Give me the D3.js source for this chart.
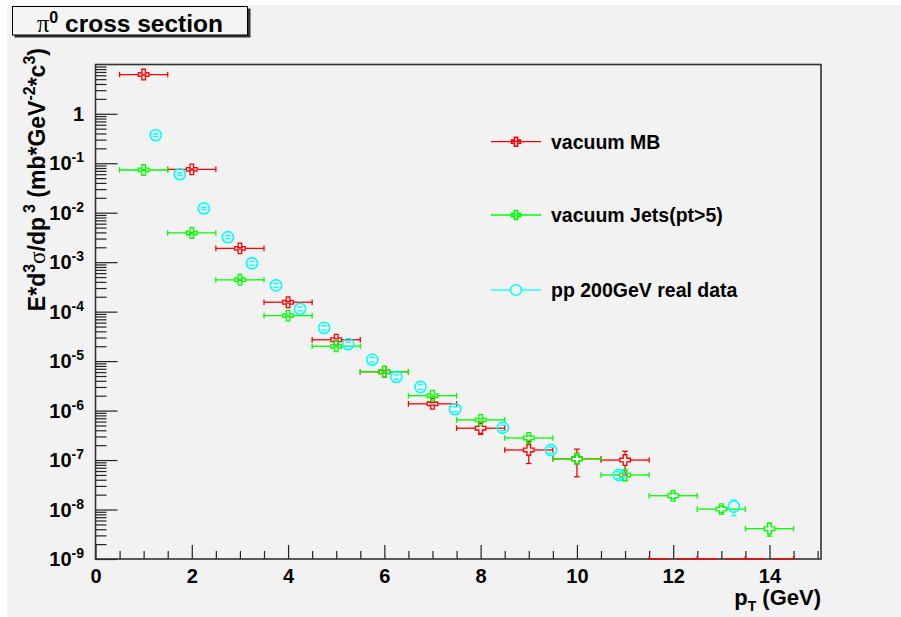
<!DOCTYPE html>
<html>
<head>
<meta charset="utf-8">
<script src="https://cdn.jsdelivr.net/npm/d3@7"></script>
<style>
  body { margin: 0; background: #ffffff; }
  svg { display: block; }
  text { font-family: "Liberation Sans", Arial, Helvetica, sans-serif; font-weight: bold; fill: #000; }
</style>
</head>
<body>
<svg id="chart" width="901" height="617"></svg>
<script>
// ---- data ----------------------------------------------------------
const seriesNames = ["vacuum MB", "vacuum Jets(pt>5)", "pp 200GeV real data"];
const seriesColors = ["#ff0000", "#00ff00", "#00ffff"];

// simulation, minimum-bias sample (pT bin centres, GeV)
const ptMB     = [1, 2, 3, 4, 5, 6, 7, 8, 9, 10, 11, 12, 13, 14];
const valuesMB = [6.2, 0.075, 1.9e-3, 1.55e-4, 2.7e-5, 6.1e-6, 1.37e-6, 4.4e-7, 1.6e-7, 1.06e-7, 1.0e-7, 0, 0, 0];
const errorsMB = [0.15, 2e-3, 6e-5, 6e-6, 1.2e-6, 3e-7, 8e-8, 1.1e-7, 7.5e-8, 6e-8, 5e-8, 0, 0, 0];

// simulation, jet-triggered sample
const ptJets     = [1, 2, 3, 4, 5, 6, 7, 8, 9, 10, 11, 12, 13, 14];
const valuesJets = [0.073, 3.9e-3, 4.4e-4, 8.3e-5, 2.0e-5, 6.1e-6, 2.0e-6, 6.5e-7, 2.8e-7, 1.06e-7, 5.0e-8, 1.9e-8, 1.02e-8, 4.1e-9];
const errorsJets = [2e-3, 1e-4, 1.2e-5, 2.5e-6, 6e-7, 2e-7, 7e-8, 3e-8, 3e-8, 2e-8, 1.2e-8, 2.5e-9, 1.6e-9, 1.2e-9];

// bin half-width of the simulated histograms (GeV)
const binHalfWidth = 0.5;

// measured p+p at 200 GeV
const ptData     = [1.25, 1.75, 2.25, 2.75, 3.25, 3.75, 4.25, 4.75, 5.25, 5.75, 6.25, 6.75, 7.47, 8.46, 9.46, 10.87, 13.26];
const valuesData = [0.37, 0.06, 0.0122, 3.2e-3, 9.5e-4, 3.4e-4, 1.14e-4, 4.7e-5, 2.2e-5, 1.07e-5, 4.8e-6, 3.0e-6, 1.07e-6, 4.5e-7, 1.6e-7, 5.0e-8, 1.15e-8];
const errorsData = [0.02, 3.5e-3, 7e-4, 2.2e-4, 8e-5, 3e-5, 1e-5, 4.5e-6, 2.2e-6, 1.1e-6, 5e-7, 3.2e-7, 1.2e-7, 5.5e-8, 2.2e-8, 8e-9, 4e-9];

const xMajorTicks = [0, 2, 4, 6, 8, 10, 12, 14];
const yDecades = [-9, -8, -7, -6, -5, -4, -3, -2, -1, 0];

// ---- layout --------------------------------------------------------
const svg = d3.select("#chart");
const frame = { left: 95.5, right: 821, top: 64.5, bottom: 559 };

const x = d3.scaleLinear().domain([0, 15.07]).range([frame.left, frame.right]);
const y = d3.scaleLog().domain([1e-9, 9.9]).range([frame.bottom, frame.top]);

// canvas background
svg.append("rect").attr("x", 7).attr("y", 5).attr("width", 894).attr("height", 612).attr("fill", "#f2f2f2");

// ---- axes (ticks pointing into the frame) -------------------------
const xMinor = d3.range(0, 15.01, 0.5).filter(v => Math.abs(v / 2 - Math.round(v / 2)) > 1e-6);
svg.append("g")
  .attr("transform", `translate(0,${frame.bottom})`)
  .call(d3.axisBottom(x).tickValues(xMinor).tickSize(-8).tickFormat(""))
  .call(g => g.select(".domain").remove())
  .call(g => g.selectAll("line").attr("stroke", "#222").attr("stroke-width", 1.2));
svg.append("g")
  .attr("transform", `translate(0,${frame.bottom})`)
  .call(d3.axisBottom(x).tickValues(xMajorTicks).tickSize(-14).tickPadding(22).tickFormat(d3.format("d")))
  .call(g => g.select(".domain").remove())
  .call(g => g.selectAll("line").attr("stroke", "#222").attr("stroke-width", 1.2))
  .call(g => g.selectAll("text").attr("font-size", 20).attr("font-family", null).attr("dy", null).attr("y", 24));

const yMinor = [];
yDecades.forEach(k => { for (let m = 2; m <= 9; m++) { const v = m * Math.pow(10, k); if (v <= 9.9) yMinor.push(v); } });
svg.append("g")
  .attr("transform", `translate(${frame.left},0)`)
  .call(d3.axisLeft(y).tickValues(yMinor).tickSize(-11).tickFormat(""))
  .call(g => g.select(".domain").remove())
  .call(g => g.selectAll("line").attr("stroke", "#222").attr("stroke-width", 1.2));
svg.append("g")
  .attr("transform", `translate(${frame.left},0)`)
  .call(d3.axisLeft(y).tickValues(yDecades.map(k => Math.pow(10, k))).tickSize(-22).tickFormat(""))
  .call(g => g.select(".domain").remove())
  .call(g => g.selectAll("line").attr("stroke", "#222").attr("stroke-width", 1.2));

// decade labels: "1" or 10 with a superscript exponent
const yLab = svg.append("g").selectAll("text").data(yDecades).join("text")
  .attr("x", 84).attr("y", k => y(Math.pow(10, k)) + 7)
  .attr("text-anchor", "end").attr("font-size", 20);
yLab.each(function (k) {
  const t = d3.select(this);
  if (k === 0) { t.text("1"); return; }
  t.append("tspan").text("10");
  t.append("tspan").attr("font-size", 14).attr("dy", -8).text(String(k));
});

// frame
svg.append("rect")
  .attr("x", frame.left).attr("y", frame.top)
  .attr("width", frame.right - frame.left).attr("height", frame.bottom - frame.top)
  .attr("fill", "none").attr("stroke", "#333").attr("stroke-width", 1.6);

// ---- markers and error bars ---------------------------------------
svg.append("clipPath").attr("id", "plotArea").append("rect")
  .attr("x", frame.left - 1).attr("y", frame.top).attr("width", frame.right - frame.left + 2).attr("height", frame.bottom - frame.top + 1);

const plot = svg.append("g").attr("clip-path", "url(#plotArea)");
const gap = 5.5, cap = 2.8;
const crossPath = (s, a) => `M${-a},${-s}L${a},${-s}L${a},${-a}L${s},${-a}L${s},${a}L${a},${a}L${a},${s}L${-a},${s}L${-a},${a}L${-s},${a}L${-s},${-a}L${-a},${-a}Z`;

function drawSeries(px, vals, errs, color, withXErr, marker) {
  const g = plot.append("g").attr("stroke", color).attr("stroke-width", 1.3).attr("fill", "none");
  px.forEach((p, i) => {
    const v = vals[i], e = errs[i];
    const cx = x(p);
    const cy = v > 0 ? y(v) : frame.bottom;
    const segs = [];
    if (withXErr) {
      const xl = x(p - binHalfWidth), xr = x(p + binHalfWidth);
      const gx = v > 0 ? gap : 4;
      segs.push([xl, cy, cx - gx, cy], [cx + gx, cy, xr, cy]);
      segs.push([xl, cy - cap, xl, cy + cap], [xr, cy - cap, xr, cy + cap]);
    }
    if (v > 0 && e > 0) {
      const yt = y(v + e);
      const yb = v - e > 0 ? y(v - e) : frame.bottom;
      if (yt < cy - gap) segs.push([cx, yt, cx, cy - gap]);
      if (yb > cy + gap) segs.push([cx, cy + gap, cx, yb]);
      segs.push([cx - cap, yt, cx + cap, yt]);
      if (v - e > 0) segs.push([cx - cap, yb, cx + cap, yb]);
    }
    g.selectAll(null).data(segs).join("line")
      .attr("x1", d => d[0]).attr("y1", d => d[1]).attr("x2", d => d[2]).attr("y2", d => d[3]);
    if (v > 0) {
      if (marker === "cross") {
        g.append("path").attr("d", crossPath(5.3, 1.8)).attr("transform", `translate(${cx},${cy})`);
      } else {
        g.append("circle").attr("cx", cx).attr("cy", cy).attr("r", 5.6).attr("stroke-width", 1.6);
      }
    }
  });
}

drawSeries(ptMB, valuesMB, errorsMB, seriesColors[0], true, "cross");
drawSeries(ptJets, valuesJets, errorsJets, seriesColors[1], true, "cross");
drawSeries(ptData, valuesData, errorsData, seriesColors[2], false, "circle");

// ---- legend --------------------------------------------------------
const legendRows = [141.7, 215, 290];
const leg = svg.append("g");
seriesNames.forEach((name, i) => {
  const ly = legendRows[i], c = seriesColors[i];
  const g = leg.append("g").attr("stroke", c).attr("stroke-width", 1.3).attr("fill", "none");
  if (i < 2) {
    g.append("line").attr("x1", 491).attr("x2", 541).attr("y1", ly).attr("y2", ly);
    g.append("path").attr("d", crossPath(4.5, 1.6)).attr("transform", `translate(516,${ly})`).attr("stroke-width", 1.6);
  } else {
    g.append("line").attr("x1", 491).attr("x2", 510.5).attr("y1", ly).attr("y2", ly);
    g.append("line").attr("x1", 521.5).attr("x2", 541).attr("y1", ly).attr("y2", ly);
    g.append("circle").attr("cx", 516).attr("cy", ly).attr("r", 5.4).attr("stroke-width", 1.5);
  }
  leg.append("text").attr("x", 551).attr("y", ly + 7).attr("font-size", 19.5).text(name);
});

// ---- axis titles ---------------------------------------------------
const xt = svg.append("text").attr("x", 821).attr("y", 605).attr("text-anchor", "end").attr("font-size", 22);
xt.append("tspan").text("p");
xt.append("tspan").attr("font-size", 14).attr("dy", 6).text("T");
xt.append("tspan").attr("dy", -6).text(" (GeV)");

const yt = svg.append("text").attr("transform", "translate(45,48) rotate(-90)")
  .attr("text-anchor", "end").attr("font-size", 23);
yt.append("tspan").text("E*d");
yt.append("tspan").attr("font-size", 16).attr("dy", -10).text("3");
yt.append("tspan").attr("dy", 10).attr("font-family", "'Liberation Serif', serif").attr("font-weight", "normal").text("σ");
yt.append("tspan").text("/dp");
yt.append("tspan").attr("font-size", 16).attr("dy", -10).attr("dx", 4).text("3");
yt.append("tspan").attr("dy", 10).text(" (mb*GeV");
yt.append("tspan").attr("font-size", 16).attr("dy", -10).text("-2");
yt.append("tspan").attr("dy", 10).text("*c");
yt.append("tspan").attr("font-size", 16).attr("dy", -10).text("3");
yt.append("tspan").attr("dy", 10).text(")");

// ---- title box -----------------------------------------------------
svg.append("rect").attr("x", 14.5).attr("y", 8.5).attr("width", 236).attr("height", 29).attr("fill", "#333");
svg.append("rect").attr("x", 12.5).attr("y", 6.5).attr("width", 235).attr("height", 28.5)
  .attr("fill", "#f4f4f4").attr("stroke", "#000").attr("stroke-width", 1);
const tt = svg.append("text").attr("x", 130).attr("y", 31.5).attr("text-anchor", "middle").attr("font-size", 24.5);
tt.append("tspan").attr("font-family", "'Liberation Serif', serif").attr("font-weight", "normal").text("π");
tt.append("tspan").attr("font-size", 16).attr("dy", -9).text("0");
tt.append("tspan").attr("dy", 9).text(" cross section");
</script>
</body>
</html>
